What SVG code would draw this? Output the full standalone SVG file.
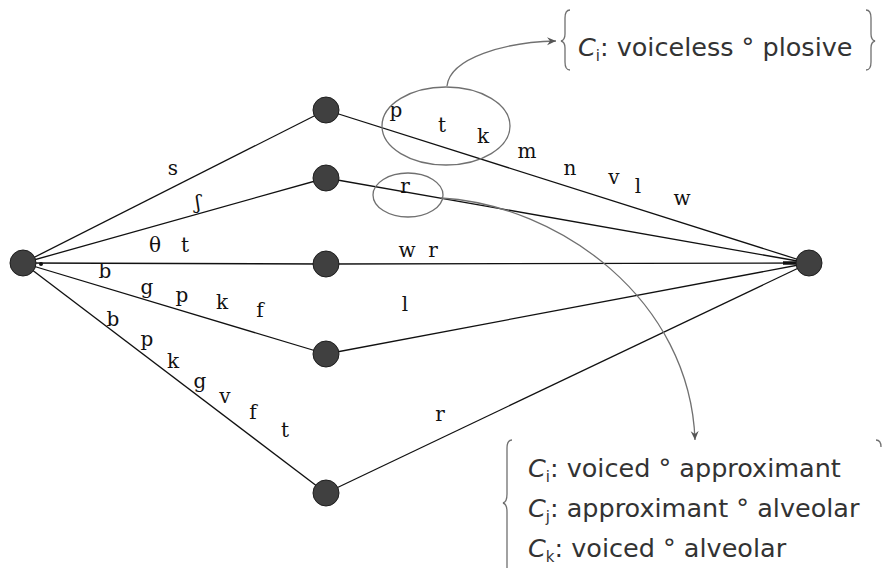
<svg xmlns="http://www.w3.org/2000/svg" width="885" height="568" viewBox="0 0 885 568">
<style>
.node{fill:#404040;stroke:#1e1e1e;stroke-width:1}
.edge{stroke:#111;stroke-width:1.3;fill:none}
.ann{stroke:#707070;stroke-width:1.3;fill:none}
.lbl{font-family:"DejaVu Serif","Liberation Serif",serif;font-size:20px;fill:#111;text-anchor:middle;dominant-baseline:middle}
.note{font-family:"DejaVu Sans","Liberation Sans",sans-serif;font-size:25.5px;fill:#333}
.sub{font-size:15px}
</style>
<defs>
<marker id="arr" markerWidth="10" markerHeight="10" refX="9" refY="5" orient="auto" markerUnits="userSpaceOnUse">
<path d="M0,1 L9,5 L0,9 L3,5 Z" fill="#555"/>
</marker>
</defs>
<g id="connectors">
<line class="edge" x1="23" y1="263" x2="326" y2="110"/>
<line class="edge" x1="23" y1="263" x2="326" y2="178"/>
<line class="edge" x1="23" y1="263" x2="326" y2="264"/>
<line class="edge" x1="23" y1="263" x2="326" y2="354"/>
<line class="edge" x1="23" y1="263" x2="326" y2="493"/>
<line class="edge" x1="326" y1="110" x2="809" y2="263"/>
<line class="edge" x1="326" y1="178" x2="809" y2="263"/>
<line class="edge" x1="326" y1="264" x2="809" y2="263"/>
<line class="edge" x1="326" y1="354" x2="809" y2="263"/>
<line class="edge" x1="326" y1="493" x2="809" y2="263"/>
<line x1="783" y1="263" x2="797" y2="263" stroke="#111" stroke-width="3.5"/>
<circle cx="41" cy="264" r="2" fill="#111"/>
</g>
<g id="edge-labels">
<text class="lbl" x="173" y="169">s</text>
<text class="lbl" x="198" y="203">ʃ</text>
<text class="lbl" x="155" y="246">θ</text>
<text class="lbl" x="185" y="246">t</text>
<text class="lbl" x="105" y="272">b</text>
<text class="lbl" x="147" y="288">g</text>
<text class="lbl" x="182" y="296">p</text>
<text class="lbl" x="222" y="303">k</text>
<text class="lbl" x="260" y="311">f</text>
<text class="lbl" x="113" y="320">b</text>
<text class="lbl" x="147" y="340">p</text>
<text class="lbl" x="173" y="362">k</text>
<text class="lbl" x="200" y="382">g</text>
<text class="lbl" x="225" y="397">v</text>
<text class="lbl" x="253" y="413">f</text>
<text class="lbl" x="285" y="431">t</text>
<text class="lbl" x="396" y="111">p</text>
<text class="lbl" x="442" y="126">t</text>
<text class="lbl" x="483" y="137">k</text>
<text class="lbl" x="527" y="152">m</text>
<text class="lbl" x="570" y="169">n</text>
<text class="lbl" x="614" y="178">v</text>
<text class="lbl" x="638" y="187">l</text>
<text class="lbl" x="682" y="199">w</text>
<text class="lbl" x="405" y="187">r</text>
<text class="lbl" x="407" y="251">w</text>
<text class="lbl" x="433" y="251">r</text>
<text class="lbl" x="405" y="305">l</text>
<text class="lbl" x="440" y="415">r</text>
</g>
<g id="annotations">
<ellipse class="ann" cx="446" cy="126" rx="64" ry="39"/>
<ellipse class="ann" cx="408" cy="195" rx="35" ry="22"/>
<path class="ann" d="M447,86 C450,58 505,42 556,41" marker-end="url(#arr)"/>
<path class="ann" d="M441,198 C560,205 690,300 695,440" marker-end="url(#arr)"/>
</g>
<g id="note-plosive">
<path class="ann" d="M570,10 Q565,10 565,18 L565,34 Q565,40 561,41 Q565,42 565,48 L565,62 Q565,70 570,70"/>
<path class="ann" d="M866,10 Q871,10 871,18 L871,34 Q871,40 875,41 Q871,42 871,48 L871,62 Q871,70 866,70"/>
<text class="note" x="578" y="56"><tspan font-style="italic">C</tspan><tspan class="sub" dy="5">i</tspan><tspan dy="-5">: voiceless ° plosive</tspan></text>
</g>
<g id="note-r">
<path class="ann" d="M512,440 Q507,440 507,448 L507,494 Q507,502 503,503 Q507,504 507,512 L507,568"/>
<path class="ann" d="M876,440 Q881,440 881,447"/>
<text class="note" x="528" y="477"><tspan font-style="italic">C</tspan><tspan class="sub" dy="5">i</tspan><tspan dy="-5">: voiced ° approximant</tspan></text>
<text class="note" x="528" y="517"><tspan font-style="italic">C</tspan><tspan class="sub" dy="5">j</tspan><tspan dy="-5">: approximant ° alveolar</tspan></text>
<text class="note" x="528" y="557"><tspan font-style="italic">C</tspan><tspan class="sub" dy="5">k</tspan><tspan dy="-5">: voiced ° alveolar</tspan></text>
</g>
<g id="node-L"><circle class="node" cx="23" cy="263" r="13"/></g>
<g id="node-A"><circle class="node" cx="326" cy="110" r="13"/></g>
<g id="node-B"><circle class="node" cx="326" cy="178" r="13"/></g>
<g id="node-C"><circle class="node" cx="326" cy="264" r="13"/></g>
<g id="node-D"><circle class="node" cx="326" cy="354" r="13"/></g>
<g id="node-E"><circle class="node" cx="326" cy="493" r="13"/></g>
<g id="node-R"><circle class="node" cx="809" cy="263" r="13"/></g>
</svg>
